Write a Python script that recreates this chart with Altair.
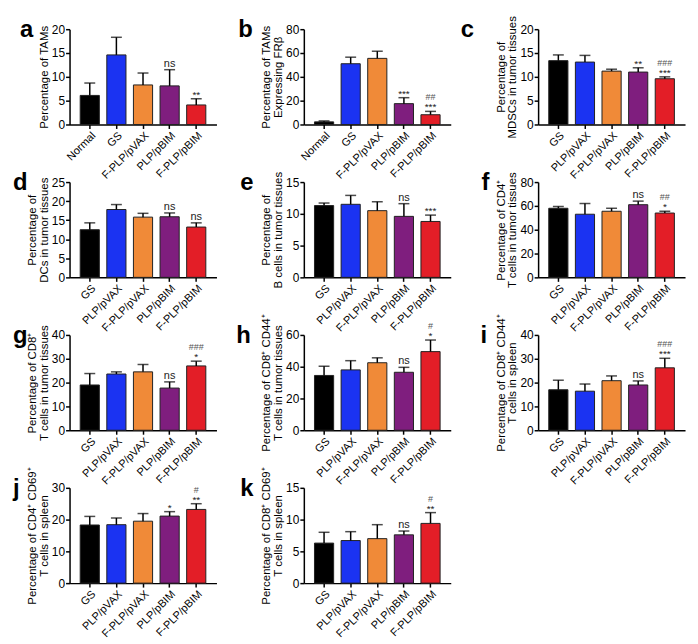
import altair as alt
import pandas as pd

FONT = "Liberation Sans"

CATS_A = ["Normal", "GS", "F-PLP/pVAX", "PLP/pBIM", "F-PLP/pBIM"]
CATS = ["GS", "PLP/pVAX", "F-PLP/pVAX", "PLP/pBIM", "F-PLP/pBIM"]
COLORS = ["#000000", "#1b33f2", "#f08a38", "#7f1e7e", "#e31e27"]

a_mean = [6.1, 14.6, 8.3, 8.1, 4.1]
a_top = [8.7, 18.3, 10.8, 11.5, 5.4]
a_sig = ["", "", "", "ns", "**"]
a_hash = ["", "", "", "", ""]

b_mean = [2.2, 51.0, 55.5, 17.5, 8.2]
b_top = [3.0, 56.5, 61.5, 22.5, 11.0]
b_sig = ["", "", "", "***", "***"]
b_hash = ["", "", "", "", "##"]

c_mean = [13.4, 13.1, 11.2, 11.0, 9.6]
c_top = [14.6, 14.5, 11.6, 11.9, 10.0]
c_sig = ["", "", "", "**", "***"]
c_hash = ["", "", "", "", "###"]

d_mean = [12.5, 17.8, 15.8, 15.9, 13.2]
d_top = [14.3, 19.1, 16.8, 16.9, 14.3]
d_sig = ["", "", "", "ns", "ns"]
d_hash = ["", "", "", "", ""]

e_mean = [11.3, 11.5, 10.5, 9.6, 8.8]
e_top = [11.7, 12.9, 11.9, 11.6, 9.8]
e_sig = ["", "", "", "ns", "***"]
e_hash = ["", "", "", "", ""]

f_mean = [58.0, 53.0, 55.5, 61.0, 54.0]
f_top = [59.5, 62.0, 58.0, 64.0, 55.5]
f_sig = ["", "", "", "ns", "*"]
f_hash = ["", "", "", "", "##"]

g_mean = [19.0, 23.6, 24.5, 17.7, 27.0]
g_top = [23.8, 24.5, 27.6, 20.3, 29.0]
g_sig = ["", "", "", "ns", "*"]
g_hash = ["", "", "", "", "###"]

h_mean = [34.5, 38.0, 42.5, 36.5, 49.5]
h_top = [40.3, 43.8, 45.6, 39.6, 56.8]
h_sig = ["", "", "", "ns", "*"]
h_hash = ["", "", "", "", "#"]

i_mean = [17.0, 16.4, 20.8, 19.0, 26.2]
i_top = [21.0, 19.4, 22.8, 20.7, 30.2]
i_sig = ["", "", "", "ns", "***"]
i_hash = ["", "", "", "", "###"]

j_mean = [18.3, 18.4, 19.5, 21.1, 23.2]
j_top = [21.0, 20.5, 21.9, 22.5, 25.0]
j_sig = ["", "", "", "*", "**"]
j_hash = ["", "", "", "", "#"]

k_mean = [6.3, 6.7, 7.0, 7.6, 9.4]
k_top = [8.0, 8.1, 9.2, 8.2, 11.1]
k_sig = ["", "", "", "ns", "**"]
k_hash = ["", "", "", "", "#"]

W, H = 148, 96


def panel(letter, lx, cats, mean, top, sig, hsh, ymax, step, title):
    df = pd.DataFrame({"cat": cats, "mean": mean, "top": top, "sig": sig,
                       "hash": hsh, "col": COLORS})
    x = alt.X("cat:N", sort=cats,
              scale=alt.Scale(paddingInner=0.28, paddingOuter=0.4),
              axis=alt.Axis(title=None, labelAngle=-45, labelFontSize=11,
                            tickSize=4, labelPadding=1))
    yscale = alt.Scale(domain=[0, ymax], nice=False, zero=True)
    yaxis = alt.Axis(title=title, values=list(range(0, ymax + 1, step)),
                     tickSize=4, labelFontSize=12, titleFontSize=11.5,
                     titleLineHeight=12,
                     labelOverlap=False, labelFlush=False,
                     titleFontWeight="normal", titlePadding=2, labelPadding=1)

    def Y(field):
        return alt.Y(field, scale=yscale, axis=yaxis)

    base = alt.Chart(df)
    bars = base.mark_bar(stroke="#222222", strokeWidth=1).encode(
        x=x, y=Y("mean:Q"), color=alt.Color("col:N", scale=None))
    err = base.mark_rule(color="black", strokeWidth=1.5).encode(
        x=x, y=Y("mean:Q"), y2="top:Q")
    cap = base.mark_tick(color="black", thickness=1.5, size=11).encode(
        x=x, y=Y("top:Q"))
    ns = base.transform_filter("datum.sig == 'ns'").mark_text(
        baseline="alphabetic", dy=-3, fontSize=11, font=FONT, color="#222222"
    ).encode(x=x, y=Y("top:Q"), text="sig:N")
    stars = base.transform_filter("datum.sig != 'ns' && datum.sig != ''").mark_text(
        baseline="alphabetic", dy=-1, fontSize=10, font=FONT, color="#222222"
    ).encode(x=x, y=Y("top:Q"), text="sig:N")
    hashes = base.transform_filter("datum.hash != ''").mark_text(
        baseline="alphabetic", dy=-11, fontSize=9, font=FONT, color="#555555"
    ).encode(x=x, y=Y("top:Q"), text="hash:N")
    lab = alt.Chart(pd.DataFrame({"l": [letter]})).mark_text(
        align="left", baseline="alphabetic", fontSize=24, fontWeight="bold", font=FONT
    ).encode(x=alt.value(lx), y=alt.value(8), text="l:N")
    return alt.layer(bars, err, cap, ns, stars, hashes, lab).properties(width=W, height=H)


panels = [
    panel("a", -50, CATS_A, a_mean, a_top, a_sig, a_hash, 20, 5, "Percentage of TAMs"),
    panel("b", -66, CATS_A, b_mean, b_top, b_sig, b_hash, 80, 20, ["Percentage of TAMs", "Expressing FRβ"]),
    panel("c", -78, CATS, c_mean, c_top, c_sig, c_hash, 20, 5, ["Percentage of", "MDSCs in tumor tissues"]),
    panel("d", -57, CATS, d_mean, d_top, d_sig, d_hash, 25, 5, ["Percentage of", "DCs in tumor tissues"]),
    panel("e", -64, CATS, e_mean, e_top, e_sig, e_hash, 15, 5, ["Percentage of", "B cells in tumor tissues"]),
    panel("f", -57, CATS, f_mean, f_top, f_sig, f_hash, 80, 20, ["Percentage of CD4⁺", "T cells in tumor tissues"]),
    panel("g", -57, CATS, g_mean, g_top, g_sig, g_hash, 40, 10, ["Percentage of CD8⁺", "T cells in tumor tissues"]),
    panel("h", -68, CATS, h_mean, h_top, h_sig, h_hash, 60, 20, ["Percentage of CD8⁺ CD44⁺", "T cells in tumor tissues"]),
    panel("i", -58, CATS, i_mean, i_top, i_sig, i_hash, 40, 10, ["Percentage of CD8⁺ CD44⁺", "T cells in spleen"]),
    panel("j", -57, CATS, j_mean, j_top, j_sig, j_hash, 30, 10, ["Percentage of CD4⁺ CD69⁺", "T cells in spleen"]),
    panel("k", -64, CATS, k_mean, k_top, k_sig, k_hash, 15, 5, ["Percentage of CD8⁺ CD69⁺", "T cells in spleen"]),
]

chart = alt.concat(
    *panels, columns=3, bounds="flush", spacing={"row": 58, "column": 88}
).properties(background="white").configure_view(
    stroke=None
).configure_axis(
    domainColor="black", domainWidth=1.5, tickColor="black", tickWidth=1.5,
    labelColor="black", titleColor="black", labelFont=FONT, titleFont=FONT,
    grid=False, titleFontWeight="normal"
).configure_axisY(labelOverlap=False)

chart.save("out.html", embed_options={"renderer": "svg", "actions": False})
